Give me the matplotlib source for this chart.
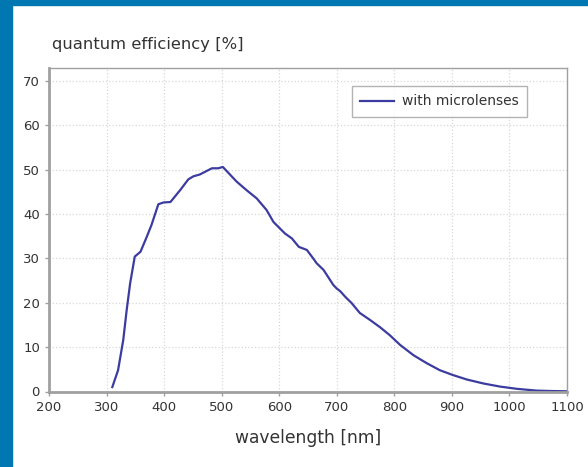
import matplotlib
matplotlib.use("Agg")
import matplotlib.pyplot as plt
from matplotlib.patches import Rectangle

# quantum efficiency curve
wavelength = [310, 320, 329, 335, 341, 349, 359, 370, 378, 390, 399, 411, 428, 442,
              451, 462, 483, 494, 502, 526, 543, 561, 578, 590, 610, 622, 634, 648,
              659, 665, 677, 683, 694, 700, 706, 715, 726, 740, 758, 775, 792,
              810, 833, 856, 879, 902, 926, 955, 984, 1013, 1047, 1075, 1100]
qe = [1.0, 4.8, 11.6, 18.4, 24.4, 30.4, 31.5, 34.9, 37.5, 42.2, 42.6, 42.7, 45.4, 47.8,
      48.5, 48.9, 50.3, 50.3, 50.6, 47.3, 45.4, 43.5, 40.9, 38.2, 35.6, 34.5, 32.6, 31.9,
      30.0, 28.9, 27.4, 26.2, 24.0, 23.2, 22.6, 21.3, 19.9, 17.7, 16.1, 14.5, 12.7,
      10.5, 8.2, 6.4, 4.8, 3.7, 2.7, 1.8, 1.1, 0.6, 0.2, 0.1, 0.05]

xticks = [200, 300, 400, 500, 600, 700, 800, 900, 1000, 1100]
yticks = [0, 10, 20, 30, 40, 50, 60, 70]

plt.rcParams['font.family'] = ['DejaVu Sans']
txtcol = '#333333'
gray = '#a0a0a0'

fig = plt.figure(figsize=(5.88, 4.67), dpi=100)
fig.patches.append(Rectangle((0, 0), 12/588, 1, transform=fig.transFigure, color='#0077b0', zorder=0))
fig.patches.append(Rectangle((0, 1-5/467), 1, 5/467, transform=fig.transFigure, color='#0077b0', zorder=0))

ax = fig.add_axes([49/588, 1-391.5/467, (567-49)/588, (391.5-68)/467])
ax.plot(wavelength, qe, color='#3c3ca0', lw=1.6, label='with microlenses')
ax.set_xlim(200, 1100)
ax.set_ylim(0, 72.9)
ax.set_xticks(xticks)
ax.set_yticks(yticks)
ax.grid(True, color='#d8d8d8', linestyle=':', linewidth=0.9)
for s in ax.spines.values():
    s.set_color(gray)
    s.set_linewidth(1.0)
ax.spines['left'].set_linewidth(2)
ax.spines['bottom'].set_linewidth(2)
ax.tick_params(colors=gray, length=3, width=1, labelcolor=txtcol, labelsize=9.5)

fig.text(52/588, 1-44/467, 'quantum efficiency [%]', fontsize=11.8, color=txtcol, va='center', ha='left')
ax.set_xlabel('wavelength [nm]', fontsize=12.3, color=txtcol, labelpad=11)

leg = ax.legend(loc='upper right', bbox_to_anchor=(0.923, 0.944), borderaxespad=0,
                frameon=True, fontsize=10, handlelength=2.4, handletextpad=0.6,
                borderpad=0.6, fancybox=False)
leg.get_frame().set_edgecolor(gray)
leg.get_frame().set_linewidth(1)
for t in leg.get_texts():
    t.set_color(txtcol)

plt.savefig('out.png', dpi=100)
